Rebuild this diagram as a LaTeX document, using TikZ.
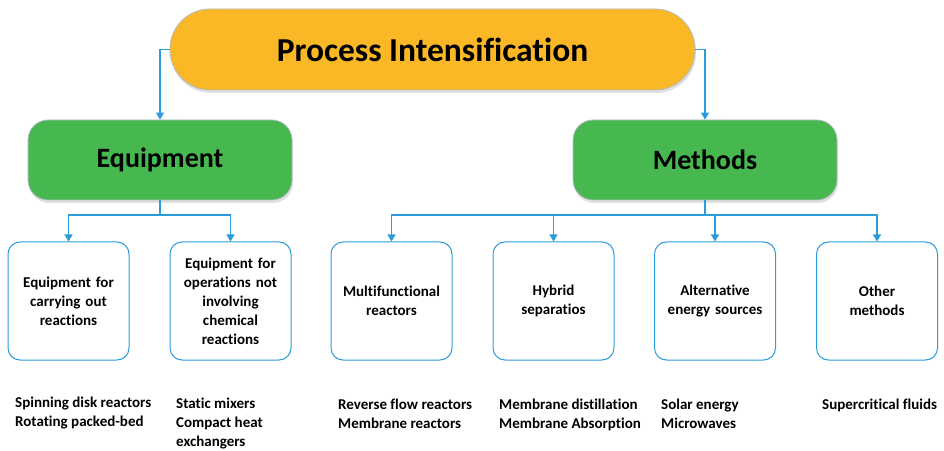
\documentclass[tikz,border=0pt]{standalone}
\usepackage{fontspec}
\setmainfont[Ligatures=NoCommon]{Carlito}
\usetikzlibrary{arrows.meta,shadows}
\definecolor{piorange}{HTML}{FBB826}
\definecolor{pigreen}{HTML}{46B84F}
\definecolor{piblue}{HTML}{2B9BD9}
\definecolor{pigray}{HTML}{B4BCC4}
\begin{document}
\begin{tikzpicture}[x=1pt,y=1pt,
  topbox/.style={draw=pigray, line width=0.8pt, fill=piorange, rounded corners=40pt,
    minimum width=525pt, minimum height=81pt, inner sep=0pt,
    font=\fontsize{33.5}{40}\selectfont\bfseries,
    drop shadow={shadow xshift=1pt, shadow yshift=-3pt, fill=black!60, opacity=.2}},
  midbox/.style={draw=pigray, line width=0.8pt, fill=pigreen, rounded corners=20pt,
    minimum width=264pt, minimum height=80pt, inner sep=0pt,
    font=\fontsize{28}{34}\selectfont\bfseries,
    drop shadow={shadow xshift=1pt, shadow yshift=-3pt, fill=black!60, opacity=.2}},
  leafbox/.style={draw=piblue, line width=1pt, rounded corners=12pt,
    minimum width=121pt, minimum height=118pt, text width=117pt, inner sep=0pt,
    align=center, font=\fontsize{15}{19}\selectfont\bfseries},
  lbl/.style={anchor=north west, align=left, inner sep=0pt,
    font=\fontsize{15}{19}\selectfont\bfseries},
  arr/.style={draw=piblue, line width=1.3pt, -{Triangle[width=8pt,length=7pt]}},
  conn/.style={draw=piblue, line width=1.3pt}]
\useasboundingbox (0,0) rectangle (944,450);

\node[topbox] (top) at (432.5,400.5) {Process Intensification};
\node[midbox] (equip) at (160,290) {Equipment};
\node[midbox] (meth) at (705,290) {Methods};

\node[leafbox] (b1) at (68.5,149) {Equipment for\\carrying out\\reactions};
\node[leafbox] (b2) at (230.5,149) {Equipment for\\operations not\\involving\\chemical\\reactions};
\node[leafbox] (b3) at (391.5,149) {Multifunctional\\reactors};
\node[leafbox] (b4) at (553.5,149) {Hybrid\\separatios};
\node[leafbox] (b5) at (715,149) {Alternative\\energy sources};
\node[leafbox] (b6) at (877,149) {Other\\methods};

\draw[arr] (top.west) -| (equip.north);
\draw[arr] (top.east) -| (meth.north);

\coordinate (ej) at (160,235);
\coordinate (mj) at (705,235);
\draw[conn] (equip.south) -- (ej);
\draw[arr] (ej) -| (b1.north);
\draw[arr] (ej) -| (b2.north);
\draw[conn] (meth.south) -- (mj);
\draw[arr] (mj) -| (b3.north);
\draw[arr] (mj) -| (b4.north);
\draw[arr] (mj) -| (b5.north);
\draw[arr] (mj) -| (b6.north);

\node[lbl] (t1) at (15,53.5) {Spinning disk reactors\\Rotating packed-bed};
\node[lbl] (t2) at (176,52) {Static mixers\\Compact heat\\exchangers};
\node[lbl] (t3) at (338,51.5) {Reverse flow reactors\\Membrane reactors};
\node[lbl] (t4) at (499,51.5) {Membrane distillation\\Membrane Absorption};
\node[lbl] (t5) at (661,51.5) {Solar energy\\Microwaves};
\node[lbl] (t6) at (822,51.5) {Supercritical fluids};
\end{tikzpicture}
\end{document}
